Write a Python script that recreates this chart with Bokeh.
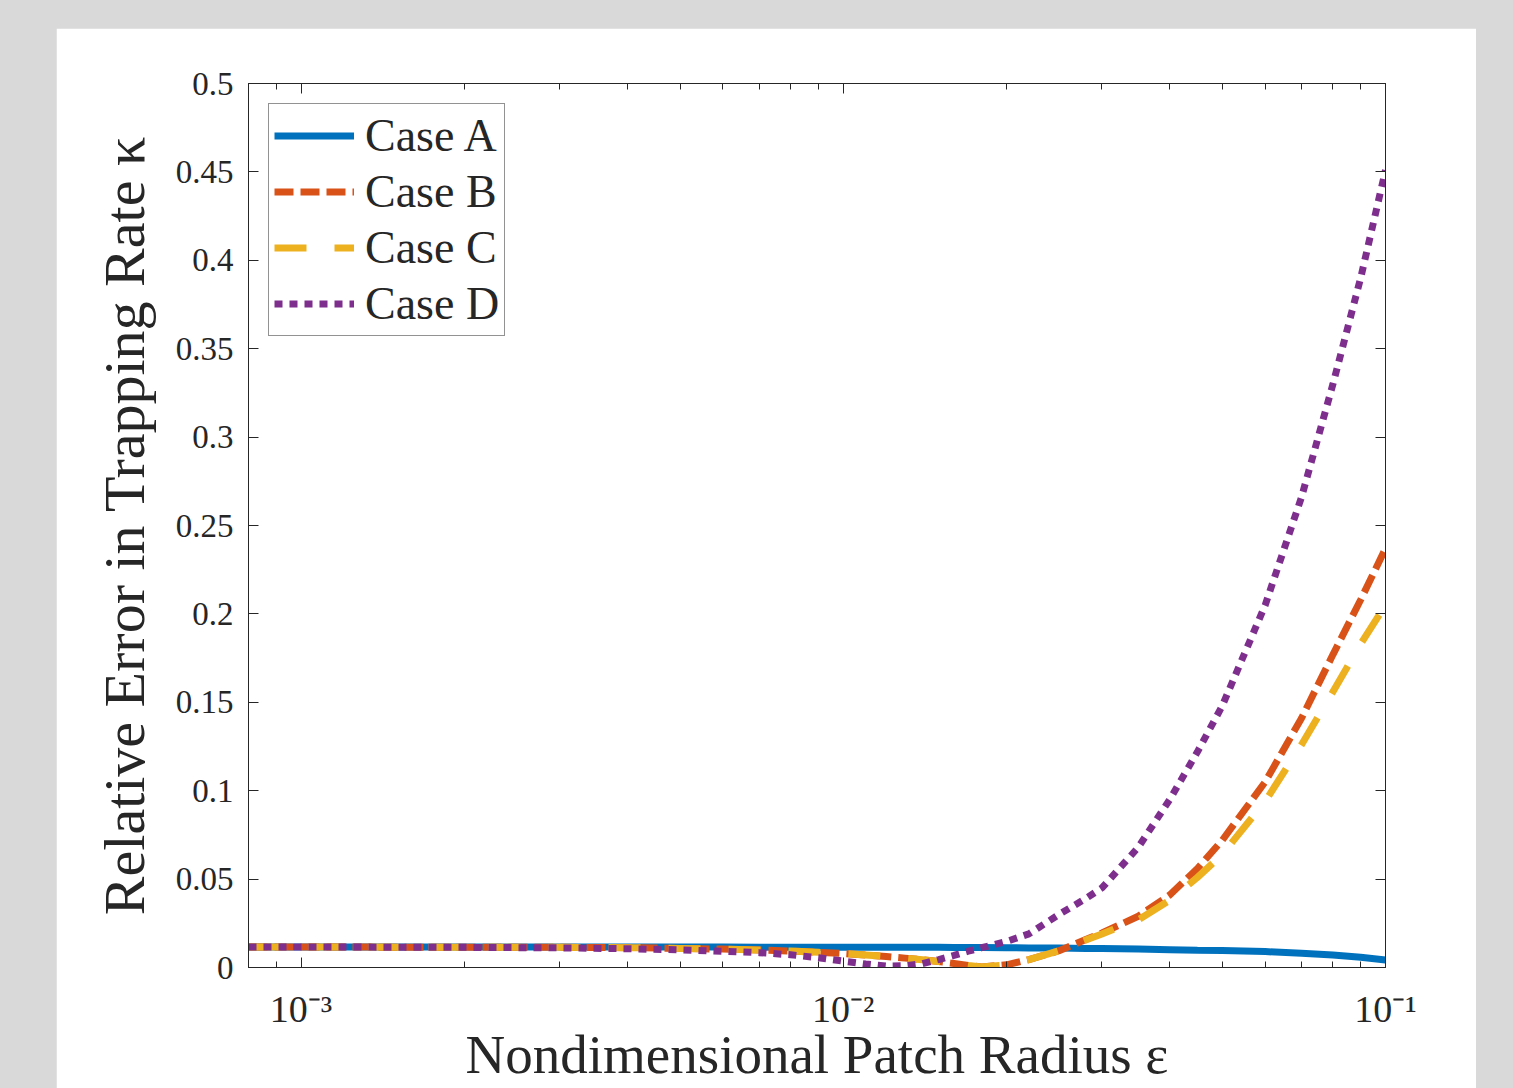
from bokeh.plotting import figure
from bokeh.models import (LinearAxis, LogAxis, FixedTicker, CustomJSTickFormatter,
                          Legend, LegendItem, Range1d, GlobalInlineStyleSheet)
from bokeh.embed import file_html
from bokeh.resources import INLINE

# ---------------- data ----------------
eps = [0.0008, 0.001, 0.0015, 0.002, 0.003, 0.004, 0.005, 0.006, 0.007, 0.008,
       0.009, 0.010, 0.011, 0.012, 0.013, 0.014, 0.015, 0.016, 0.017, 0.018,
       0.020, 0.022, 0.025, 0.028, 0.030, 0.035, 0.040, 0.045, 0.050, 0.060,
       0.070, 0.080, 0.090, 0.100]

case_a = [0.0116, 0.0116, 0.0116, 0.0116, 0.0116, 0.0116, 0.0116, 0.0116, 0.0115, 0.0115,
          0.0115, 0.0115, 0.0115, 0.0115, 0.0114, 0.0114, 0.0114, 0.0113, 0.0113, 0.0113,
          0.0112, 0.0111, 0.0110, 0.0108, 0.0107, 0.0104, 0.0101, 0.0098, 0.0096, 0.0090,
          0.0081, 0.0071, 0.0058, 0.0042]

case_b = [0.0116, 0.0116, 0.0115, 0.0115, 0.0114, 0.0112, 0.0108, 0.0104, 0.0099, 0.0093,
          0.0086, 0.0079, 0.0071, 0.0062, 0.0053, 0.0044, 0.0034, 0.0023, 0.0011, 0.0003,
          0.0015, 0.0045, 0.0095, 0.0158, 0.0195, 0.0290, 0.0410, 0.0560, 0.0720, 0.1050,
          0.1410, 0.1770, 0.2080, 0.2370]

case_c = [0.0116, 0.0116, 0.0115, 0.0115, 0.0114, 0.0112, 0.0108, 0.0104, 0.0099, 0.0093,
          0.0086, 0.0079, 0.0071, 0.0062, 0.0053, 0.0044, 0.0034, 0.0023, 0.0011, 0.0003,
          0.0015, 0.0045, 0.0095, 0.0155, 0.0190, 0.0270, 0.0380, 0.0510, 0.0640, 0.0940,
          0.1260, 0.1560, 0.1830, 0.2050]

case_d = [0.0116, 0.0116, 0.0115, 0.0114, 0.0111, 0.0106, 0.0100, 0.0092, 0.0084, 0.0072,
          0.0055, 0.0036, 0.0020, 0.0008, 0.0010, 0.0022, 0.0045, 0.0068, 0.0092, 0.0112,
          0.0147, 0.0190, 0.0300, 0.0390, 0.0450, 0.0680, 0.0950, 0.1220, 0.1480, 0.2050,
          0.2660, 0.3300, 0.3900, 0.4510]

series_names = ["Case A", "Case B", "Case C", "Case D"]
x_major = [1e-3, 1e-2, 1e-1]
y_major = [0, 0.05, 0.1, 0.15, 0.2, 0.25, 0.3, 0.35, 0.4, 0.45, 0.5]

# ---------------- figure ----------------
INK = "#262626"
SERIF = "Liberation Serif"

p = figure(width=1420, height=1080, x_axis_type="log",
           x_range=Range1d(8e-4, 0.1), y_range=Range1d(0, 0.5),
           output_backend="svg", toolbar_location=None,
           min_border_left=192, min_border_right=91,
           min_border_top=55, min_border_bottom=141)
p.margin = (28, 0, 0, 56)
p.stylesheets = [GlobalInlineStyleSheet(
    css="html,body{margin:0;padding:0;background:#d9d9d9;overflow:hidden;}")]
p.border_fill_color = "white"
p.background_fill_color = "white"
p.outline_line_color = INK
p.outline_line_width = 1
p.xgrid.visible = False
p.ygrid.visible = False

x_minor = [m * d for d in (1e-4, 1e-3, 1e-2) for m in range(2, 10) if 8e-4 <= m * d <= 0.1]

xfmt = CustomJSTickFormatter(code="""
const e = Math.round(Math.log10(tick));
const sup = {'-':'\u207B','0':'\u2070','1':'\u00B9','2':'\u00B2','3':'\u00B3','4':'\u2074',
             '5':'\u2075','6':'\u2076','7':'\u2077','8':'\u2078','9':'\u2079'};
return '10' + String(e).split('').map(c => sup[c]).join('');
""")
yfmt = CustomJSTickFormatter(code="return String(Math.round(tick*100)/100);")


def style(ax, labels=True):
    ax.axis_line_color = INK
    ax.axis_line_width = 1
    ax.major_tick_line_color = INK
    ax.minor_tick_line_color = INK
    ax.major_tick_in = 10
    ax.major_tick_out = 0
    ax.minor_tick_in = 6
    ax.minor_tick_out = 0
    ax.major_label_text_font = SERIF
    ax.major_label_text_color = INK
    ax.axis_label_text_font = SERIF
    ax.axis_label_text_font_style = "normal"
    ax.axis_label_text_color = INK
    if not labels:
        ax.major_label_text_font_size = "6px"
        ax.major_label_text_alpha = 0
        ax.major_label_standoff = 0


xa = p.xaxis[0]
style(xa)
xa.ticker = FixedTicker(ticks=x_major, minor_ticks=x_minor)
xa.formatter = xfmt
xa.major_label_text_font_size = "38px"
xa.major_label_standoff = 20
xa.axis_label = "Nondimensional Patch Radius \u03b5"
xa.axis_label_text_font_size = "55px"
xa.axis_label_standoff = -9

ya = p.yaxis[0]
style(ya)
ya.ticker = FixedTicker(ticks=y_major, minor_ticks=[])
ya.formatter = yfmt
ya.major_label_text_font_size = "33px"
ya.major_label_standoff = 15
ya.axis_label = "Relative Error in Trapping Rate \u03ba"
ya.axis_label_text_font_size = "58px"
ya.axis_label_standoff = 16

top = LogAxis(ticker=FixedTicker(ticks=x_major, minor_ticks=x_minor))
style(top, labels=False)
p.add_layout(top, "above")

right = LinearAxis(ticker=FixedTicker(ticks=y_major, minor_ticks=[]))
style(right, labels=False)
p.add_layout(right, "right")

# ---------------- lines ----------------
LW = 7
rA = p.line(eps, case_a, line_color="#0072BD", line_width=LW)
rB = p.line(eps, case_b, line_color="#D95319", line_width=LW, line_dash="19 7")
rC = p.line(eps, case_c, line_color="#EDB120", line_width=LW, line_dash="32 28")
rD = p.line(eps, case_d, line_color="#7E2F8E", line_width=LW, line_dash="8 7")

legend = Legend(items=[LegendItem(label=n, renderers=[r])
                       for n, r in zip(series_names, [rA, rB, rC, rD])],
                location="top_left")
legend.margin = 20
legend.padding = 5
legend.spacing = 3
legend.glyph_width = 80
legend.glyph_height = 41
legend.label_height = 41
legend.label_standoff = 11
legend.label_text_font = SERIF
legend.label_text_font_size = "46px"
legend.label_text_color = INK
legend.border_line_color = INK
legend.border_line_width = 1
legend.background_fill_color = "white"
legend.background_fill_alpha = 1
p.add_layout(legend)

open("out.html", "w").write(file_html(p, INLINE))
